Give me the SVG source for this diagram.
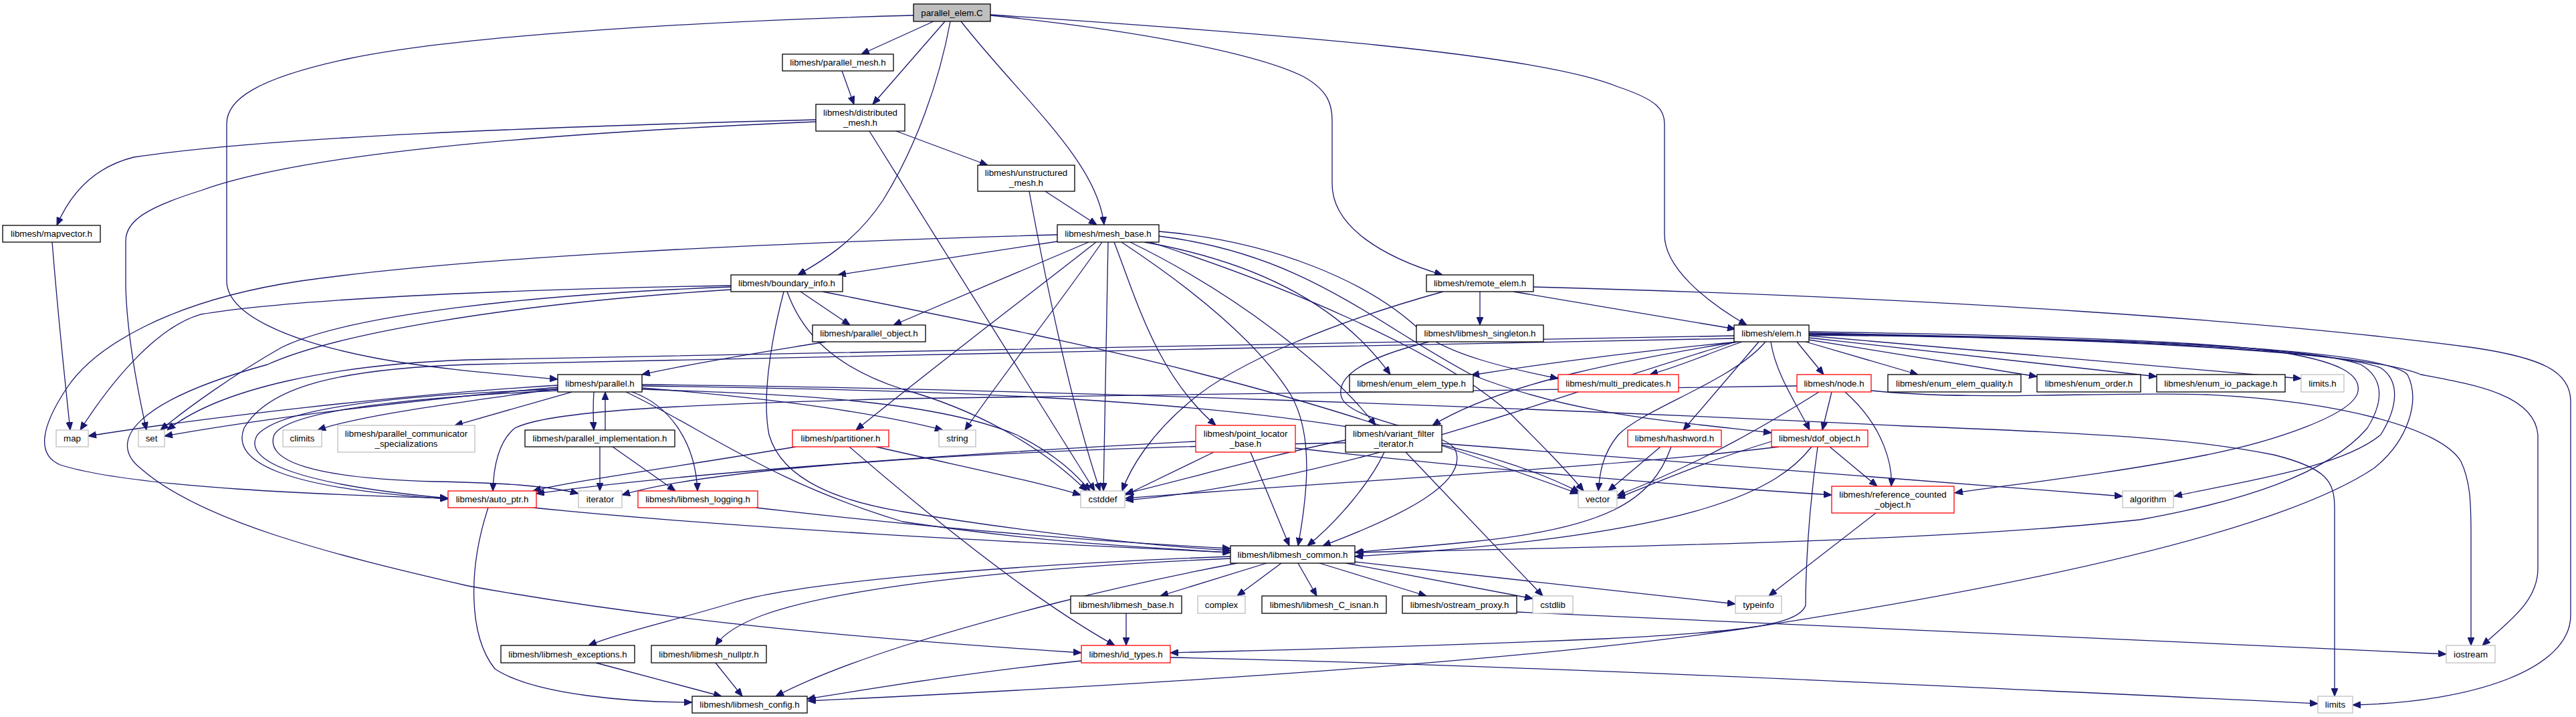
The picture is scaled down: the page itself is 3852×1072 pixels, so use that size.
<svg xmlns="http://www.w3.org/2000/svg" width="3852" height="1072" viewBox="0 0 3852 1072">
<style>
.b{fill:#fff;stroke:#000;stroke-width:1.3}
.r{fill:#fff;stroke:#f00;stroke-width:1.3}
.g{fill:#fff;stroke:#bfbfbf;stroke-width:1.3}
.root{fill:#bfbfbf;stroke:#000;stroke-width:1.3}
text{font-family:"Liberation Sans",Arial,Helvetica,sans-serif;font-size:13.3px;text-anchor:middle;fill:#000}
.e{fill:none;stroke:#191970;stroke-width:1.3;marker-end:url(#a)}
</style>
<defs>
<marker id="a" markerWidth="12" markerHeight="10" refX="12" refY="5" orient="auto" markerUnits="userSpaceOnUse"><path d="M0,0 L12,5 L0,10 z" fill="#191970" stroke="#191970" stroke-width="1"/></marker>
</defs>
<rect width="3852" height="1072" fill="#fff"/>
<g id="edges">
<!-- parallel_elem.C -->
<path class="e" d="M1366,23 C1100,30 700,50 520,88 C380,118 339,150 339,185 L339,420 C339,470 430,510 560,535 C650,552 760,560 834,567"/>
<path class="e" d="M1396,32 L1288,81"/>
<path class="e" d="M1413,32 L1305,156"/>
<path class="e" d="M1421,32 C1405,120 1370,220 1320,300 C1280,360 1230,390 1193,411"/>
<path class="e" d="M1437,32 C1530,150 1640,240 1651,336"/>
<path class="e" d="M1481,23 C1700,45 1880,80 1950,115 C1985,135 1992,155 1992,180 L1992,275 C1992,340 2070,385 2157,411"/>
<path class="e" d="M1481,22 C1900,50 2300,80 2420,130 C2480,150 2489,165 2489,185 L2489,351 C2489,400 2550,450 2612,486"/>
<!-- parallel_mesh -->
<path class="e" d="M1259,106 L1277,156"/>
<!-- distributed_mesh -->
<path class="e" d="M1220,179 C800,190 400,205 200,235 C140,250 105,290 85,337"/>
<path class="e" d="M1220,182 C800,200 450,230 300,285 C220,310 188,330 188,360 L188,430 C190,500 205,580 219,643"/>
<path class="e" d="M1340,196 L1477,247"/>
<path class="e" d="M1300,196 L1637,734"/>
<!-- unstructured_mesh -->
<path class="e" d="M1563,286 L1640,336"/>
<path class="e" d="M1539,286 C1560,400 1600,600 1645,734"/>
<!-- mapvector -->
<path class="e" d="M78,362 C85,450 95,550 105,643"/>
<!-- mesh_base -->
<path class="e" d="M1581,361 L1253,411"/>
<path class="e" d="M1581,351 C1100,365 700,385 450,420 C250,450 140,520 100,580 C60,640 55,680 90,695 C200,730 500,740 670,745"/>
<path class="e" d="M1628,362 L1336,486"/>
<path class="e" d="M1639,362 C1540,440 1420,530 1280,643"/>
<path class="e" d="M1648,362 C1580,460 1500,560 1443,643"/>
<path class="e" d="M1657,362 L1650,734"/>
<path class="e" d="M1666,362 C1700,450 1730,560 1818,636"/>
<path class="e" d="M1677,362 C1780,430 1880,510 1930,590 C1965,650 1955,740 1941,816"/>
<path class="e" d="M1690,362 C1850,440 1990,550 2057,636"/>
<path class="e" d="M1711,362 C1870,390 2000,450 2079,560"/>
<path class="e" d="M1733,346 C1900,360 2050,420 2130,500 C2170,530 2250,550 2330,566"/>
<path class="e" d="M1733,353 C1950,380 2050,480 2200,560 C2350,620 2500,630 2649,647"/>
<path class="e" d="M1720,362 C1900,420 2150,520 2260,620 C2300,660 2340,700 2368,734"/>
<!-- boundary_info -->
<path class="e" d="M1093,427 C800,432 450,445 300,470 C230,490 160,580 120,643"/>
<path class="e" d="M1093,429 C800,440 520,470 420,520 C350,560 280,610 240,643"/>
<path class="e" d="M1093,433 C750,455 500,500 400,545 C200,600 160,660 210,700 C300,780 500,830 700,876 C1000,930 1300,955 1617,976"/>
<path class="e" d="M1197,436 L1271,486"/>
<path class="e" d="M1172,436 C1150,520 1140,600 1150,650 C1170,720 1260,750 1350,765 C1500,790 1700,815 1840,823"/>
<path class="e" d="M1177,436 C1200,500 1250,550 1350,582 C1450,610 1550,660 1625,734"/>
<path class="e" d="M1230,436 C1450,480 1650,520 1800,560 C2000,610 2200,680 2360,738"/>
<!-- parallel_object -->
<path class="e" d="M1235,511 C1150,525 1050,540 960,560"/>
<!-- parallel.h -->
<path class="e" d="M888,586 C887,600 887,625 888,643"/>
<path class="e" d="M855,586 L680,636"/>
<path class="e" d="M945,586 C1000,605 1040,660 1043,734"/>
<path class="e" d="M834,576 C600,590 300,625 132,652"/>
<path class="e" d="M834,579 C600,600 400,625 246,652"/>
<path class="e" d="M834,581 C700,600 540,620 475,643"/>
<path class="e" d="M834,582 C600,590 420,610 385,650 C360,690 450,725 670,745"/>
<path class="e" d="M834,584 C600,595 430,615 410,650 C395,690 470,715 650,720 C750,722 820,726 865,738"/>
<path class="e" d="M936,586 C1050,640 1150,720 1350,780 C1550,810 1700,818 1840,826"/>
<path class="e" d="M960,582 C1200,590 1400,600 1520,650 C1580,680 1610,710 1630,734"/>
<path class="e" d="M960,580 C1150,595 1300,615 1410,643"/>
<path class="e" d="M960,577 C1500,585 2100,600 2362,736"/>
<path class="e" d="M960,575 C1500,580 2300,610 2850,637 C3200,650 3300,660 3400,680 C3480,700 3491,720 3491,760 L3491,1041"/>
<!-- parallel_implementation -->
<path class="e" d="M905,643 L905,586"/>
<path class="e" d="M897,668 L897,734"/>
<path class="e" d="M916,668 L1010,734"/>
<!-- elem.h -->
<path class="e" d="M2593,502 C2000,515 1200,525 700,538 C500,545 330,580 250,643"/>
<path class="e" d="M2593,506 C2000,520 1200,530 700,545 C500,552 400,580 365,640 C345,690 420,730 670,746"/>
<path class="e" d="M2600,511 C2450,525 2300,545 2200,561"/>
<path class="e" d="M2605,511 C2550,530 2520,545 2467,560"/>
<path class="e" d="M2598,511 C2450,535 2250,570 2142,636"/>
<path class="e" d="M2630,511 L2517,643"/>
<path class="e" d="M2640,511 C2590,570 2460,610 2420,650 C2395,680 2392,710 2390,734"/>
<path class="e" d="M2596,511 C2300,600 2000,720 1683,748"/>
<path class="e" d="M2648,511 C2655,560 2690,610 2706,643"/>
<path class="e" d="M2687,511 L2727,560"/>
<path class="e" d="M2700,511 L2868,560"/>
<path class="e" d="M2705,508 L3046,563"/>
<path class="e" d="M2705,505 L3225,563"/>
<path class="e" d="M2705,502 L3441,566"/>
<path class="e" d="M2705,496 C3000,500 3300,510 3400,525 C3500,540 3530,560 3526,585 C3520,620 3400,660 3300,680 C3150,710 3000,725 2923,737"/>
<path class="e" d="M2705,498 C3100,505 3450,515 3530,545 C3565,565 3565,600 3540,640 C3480,710 3350,750 3200,777 C2900,810 2400,818 2027,826"/>
<path class="e" d="M2705,499 C3100,505 3480,520 3560,550 C3590,570 3585,610 3560,650 C3500,700 3350,720 3251,742"/>
<path class="e" d="M2705,500 C3150,505 3560,520 3600,560 C3620,600 3600,660 3550,700 C3400,800 3000,880 2600,941 C2300,985 1800,1020 1208,1048"/>
<path class="e" d="M2705,501 C3200,505 3550,530 3620,560 C3700,575 3790,590 3795,650 L3795,850 C3795,900 3750,930 3712,965"/>
<!-- remote_elem -->
<path class="e" d="M2263,436 L2595,492"/>
<path class="e" d="M2213,436 L2213,486"/>
<path class="e" d="M2158,436 C2000,480 1850,540 1780,600 C1720,650 1690,700 1678,734"/>
<path class="e" d="M2293,429 C2900,445 3400,480 3700,520 C3800,535 3844,555 3844,600 L3844,920 C3844,1000 3700,1050 3518,1054"/>
<!-- libmesh_singleton -->
<path class="e" d="M2137,511 C2060,530 2000,555 2005,590 C2010,630 2150,640 2175,670 C2200,720 2100,770 1978,816"/>
<!-- auto_ptr -->
<path class="e" d="M730,759 C700,850 700,950 740,1000 C800,1040 950,1050 1035,1050"/>
<path class="e" d="M797,759 C1100,790 1500,810 1840,826"/>
<!-- logging -->
<path class="e" d="M1130,759 C1400,790 1650,810 1840,820"/>
<!-- partitioner -->
<path class="e" d="M1190,668 C1000,700 850,720 797,734"/>
<path class="e" d="M1270,668 C1400,780 1550,900 1667,965"/>
<path class="e" d="M1310,668 C1450,700 1550,720 1616,740"/>
<!-- point_locator_base -->
<path class="e" d="M1788,660 C1400,680 1000,710 802,738"/>
<path class="e" d="M1815,676 L1683,740"/>
<path class="e" d="M1870,676 L1928,816"/>
<path class="e" d="M1937,670 C2200,700 2500,725 2739,740"/>
<!-- variant_filter_iterator -->
<path class="e" d="M2012,662 C1600,670 1100,690 930,740"/>
<path class="e" d="M2012,658 C1900,680 1780,715 1683,738"/>
<path class="e" d="M2070,676 C2050,720 2000,780 1955,816"/>
<path class="e" d="M2102,676 L2307,891"/>
<path class="e" d="M2156,663 C2500,690 2900,720 3174,742"/>
<!-- hashword -->
<path class="e" d="M2483,668 L2405,734"/>
<path class="e" d="M2499,668 C2470,750 2400,790 2200,810 C2100,820 2050,823 2026,826"/>
<!-- node.h -->
<path class="e" d="M2687,577 C2200,585 1600,590 1350,596 C1000,605 820,615 770,640 C745,660 738,700 737,734"/>
<path class="e" d="M2720,586 C2650,630 2550,690 2418,741"/>
<path class="e" d="M2739,586 L2725,643"/>
<path class="e" d="M2759,586 C2820,640 2830,700 2828,727"/>
<path class="e" d="M2798,584 C2950,600 3150,585 3300,590 C3500,600 3650,640 3680,690 C3694,720 3695,750 3695,800 L3695,965"/>
<!-- dof_object -->
<path class="e" d="M2649,660 C2550,690 2480,720 2418,745"/>
<path class="e" d="M2660,668 C2400,700 2000,720 1683,745"/>
<path class="e" d="M2709,668 C2660,730 2550,800 2026,832"/>
<path class="e" d="M2718,668 C2705,760 2700,850 2700,905 C2690,935 2600,945 2400,955 C2100,968 1900,972 1750,976"/>
<path class="e" d="M2736,668 L2807,727"/>
<!-- reference_counted_object -->
<path class="e" d="M2805,767 L2645,891"/>
<!-- libmesh_common -->
<path class="e" d="M1840,832 C1500,845 1200,870 1100,900 C1000,930 930,945 880,965"/>
<path class="e" d="M1840,835 C1500,850 1250,880 1140,920 C1100,935 1080,950 1070,965"/>
<path class="e" d="M1850,842 C1650,880 1500,920 1350,966 C1260,995 1200,1020 1160,1041"/>
<path class="e" d="M1894,842 L1735,891"/>
<path class="e" d="M1916,842 L1850,891"/>
<path class="e" d="M1941,842 L1969,891"/>
<path class="e" d="M1973,842 L2133,891"/>
<path class="e" d="M2013,842 L2292,895"/>
<path class="e" d="M2026,840 L2595,903"/>
<!-- bottom -->
<path class="e" d="M1684,917 L1684,965"/>
<path class="e" d="M891,991 L1079,1041"/>
<path class="e" d="M1070,991 L1110,1041"/>
<path class="e" d="M1617,988 C1450,1005 1300,1030 1207,1045"/>
<path class="e" d="M1750,983 C2300,995 3000,1030 3466,1052"/>
<path class="e" d="M2268,915 C2800,940 3300,960 3658,978"/>
</g>
<g id="n_root"><rect class="root" x="1366" y="6" width="115" height="26"/><text x="1423.5" y="23.6">parallel_elem.C</text></g>
<g id="n_parallel_mesh"><rect class="b" x="1170" y="81" width="166" height="25"/><text x="1253" y="98.2">libmesh/parallel_mesh.h</text></g>
<g id="n_distributed_mesh"><rect class="b" x="1220" y="156" width="133" height="40"/><text x="1286.5" y="172.5">libmesh/distributed</text><text x="1286.5" y="187.5">_mesh.h</text></g>
<g id="n_unstructured_mesh"><rect class="b" x="1462" y="247" width="145" height="39"/><text x="1534.5" y="263">libmesh/unstructured</text><text x="1534.5" y="278">_mesh.h</text></g>
<g id="n_mesh_base"><rect class="b" x="1581" y="336" width="152" height="26"/><text x="1657" y="353.6">libmesh/mesh_base.h</text></g>
<g id="n_mapvector"><rect class="b" x="4" y="337" width="146" height="25"/><text x="77" y="354.2">libmesh/mapvector.h</text></g>
<g id="n_boundary_info"><rect class="b" x="1093" y="411" width="167" height="25"/><text x="1176.5" y="428.2">libmesh/boundary_info.h</text></g>
<g id="n_remote_elem"><rect class="b" x="2133" y="411" width="160" height="25"/><text x="2213" y="428.2">libmesh/remote_elem.h</text></g>
<g id="n_parallel_object"><rect class="b" x="1215" y="486" width="169" height="25"/><text x="1299.5" y="503.2">libmesh/parallel_object.h</text></g>
<g id="n_libmesh_singleton"><rect class="b" x="2118" y="486" width="190" height="25"/><text x="2213" y="503.2">libmesh/libmesh_singleton.h</text></g>
<g id="n_elem"><rect class="b" x="2593" y="486" width="112" height="25"/><text x="2649" y="503.2">libmesh/elem.h</text></g>
<g id="n_parallel"><rect class="b" x="834" y="560" width="126" height="26"/><text x="897" y="577.6">libmesh/parallel.h</text></g>
<g id="n_enum_elem_type"><rect class="b" x="2018" y="560" width="185" height="26"/><text x="2110.5" y="577.6">libmesh/enum_elem_type.h</text></g>
<g id="n_multi_predicates"><rect class="r" x="2330" y="560" width="180" height="26"/><text x="2420" y="577.6">libmesh/multi_predicates.h</text></g>
<g id="n_node"><rect class="r" x="2687" y="560" width="111" height="26"/><text x="2742.5" y="577.6">libmesh/node.h</text></g>
<g id="n_enum_elem_quality"><rect class="b" x="2823" y="560" width="199" height="26"/><text x="2922.5" y="577.6">libmesh/enum_elem_quality.h</text></g>
<g id="n_enum_order"><rect class="b" x="3046" y="560" width="155" height="26"/><text x="3123.5" y="577.6">libmesh/enum_order.h</text></g>
<g id="n_enum_io_package"><rect class="b" x="3225" y="560" width="192" height="26"/><text x="3321" y="577.6">libmesh/enum_io_package.h</text></g>
<g id="n_limits_h"><rect class="g" x="3441" y="560" width="64" height="26"/><text x="3473" y="577.6">limits.h</text></g>
<g id="n_map"><rect class="g" x="84" y="643" width="48" height="25"/><text x="108" y="660.2">map</text></g>
<g id="n_set"><rect class="g" x="207" y="643" width="39" height="25"/><text x="226.5" y="660.2">set</text></g>
<g id="n_climits"><rect class="g" x="423" y="643" width="58" height="25"/><text x="452" y="660.2">climits</text></g>
<g id="n_comm_spec"><rect class="g" x="505" y="636" width="205" height="40"/><text x="607.5" y="652.5">libmesh/parallel_communicator</text><text x="607.5" y="667.5">_specializations</text></g>
<g id="n_parallel_implementation"><rect class="b" x="785" y="643" width="224" height="25"/><text x="897" y="660.2">libmesh/parallel_implementation.h</text></g>
<g id="n_partitioner"><rect class="r" x="1185" y="643" width="144" height="25"/><text x="1257" y="660.2">libmesh/partitioner.h</text></g>
<g id="n_string"><rect class="g" x="1404" y="643" width="55" height="25"/><text x="1431.5" y="660.2">string</text></g>
<g id="n_point_locator_base"><rect class="r" x="1788" y="636" width="149" height="40"/><text x="1862.5" y="652.5">libmesh/point_locator</text><text x="1862.5" y="667.5">_base.h</text></g>
<g id="n_variant_filter_iterator"><rect class="b" x="2012" y="636" width="144" height="40"/><text x="2084" y="652.5">libmesh/variant_filter</text><text x="2084" y="667.5">_iterator.h</text></g>
<g id="n_hashword"><rect class="r" x="2434" y="643" width="140" height="25"/><text x="2504" y="660.2">libmesh/hashword.h</text></g>
<g id="n_dof_object"><rect class="r" x="2649" y="643" width="144" height="25"/><text x="2721" y="660.2">libmesh/dof_object.h</text></g>
<g id="n_auto_ptr"><rect class="r" x="670" y="734" width="132" height="25"/><text x="736" y="751.2">libmesh/auto_ptr.h</text></g>
<g id="n_iterator"><rect class="g" x="865" y="734" width="65" height="25"/><text x="897.5" y="751.2">iterator</text></g>
<g id="n_libmesh_logging"><rect class="r" x="954" y="734" width="179" height="25"/><text x="1043.5" y="751.2">libmesh/libmesh_logging.h</text></g>
<g id="n_cstddef"><rect class="g" x="1616" y="734" width="66" height="25"/><text x="1649" y="751.2">cstddef</text></g>
<g id="n_vector"><rect class="g" x="2360" y="734" width="58" height="25"/><text x="2389" y="751.2">vector</text></g>
<g id="n_reference_counted_object"><rect class="r" x="2739" y="727" width="183" height="40"/><text x="2830.5" y="743.5">libmesh/reference_counted</text><text x="2830.5" y="758.5">_object.h</text></g>
<g id="n_algorithm"><rect class="g" x="3174" y="734" width="76" height="25"/><text x="3212" y="751.2">algorithm</text></g>
<g id="n_libmesh_common"><rect class="b" x="1840" y="816" width="186" height="26"/><text x="1933" y="833.6">libmesh/libmesh_common.h</text></g>
<g id="n_libmesh_base"><rect class="b" x="1601" y="891" width="166" height="26"/><text x="1684" y="908.6">libmesh/libmesh_base.h</text></g>
<g id="n_complex"><rect class="g" x="1791" y="891" width="71" height="26"/><text x="1826.5" y="908.6">complex</text></g>
<g id="n_libmesh_C_isnan"><rect class="b" x="1887" y="891" width="186" height="26"/><text x="1980" y="908.6">libmesh/libmesh_C_isnan.h</text></g>
<g id="n_ostream_proxy"><rect class="b" x="2097" y="891" width="171" height="26"/><text x="2182.5" y="908.6">libmesh/ostream_proxy.h</text></g>
<g id="n_cstdlib"><rect class="g" x="2292" y="891" width="60" height="26"/><text x="2322" y="908.6">cstdlib</text></g>
<g id="n_typeinfo"><rect class="g" x="2595" y="891" width="69" height="26"/><text x="2629.5" y="908.6">typeinfo</text></g>
<g id="n_libmesh_exceptions"><rect class="b" x="749" y="965" width="200" height="26"/><text x="849" y="982.6">libmesh/libmesh_exceptions.h</text></g>
<g id="n_libmesh_nullptr"><rect class="b" x="974" y="965" width="172" height="26"/><text x="1060" y="982.6">libmesh/libmesh_nullptr.h</text></g>
<g id="n_id_types"><rect class="r" x="1617" y="965" width="133" height="26"/><text x="1683.5" y="982.6">libmesh/id_types.h</text></g>
<g id="n_iostream"><rect class="g" x="3658" y="965" width="73" height="26"/><text x="3694.5" y="982.6">iostream</text></g>
<g id="n_libmesh_config"><rect class="b" x="1035" y="1041" width="172" height="25"/><text x="1121" y="1058.2">libmesh/libmesh_config.h</text></g>
<g id="n_limits"><rect class="g" x="3466" y="1041" width="52" height="25"/><text x="3492" y="1058.2">limits</text></g>
</svg>
